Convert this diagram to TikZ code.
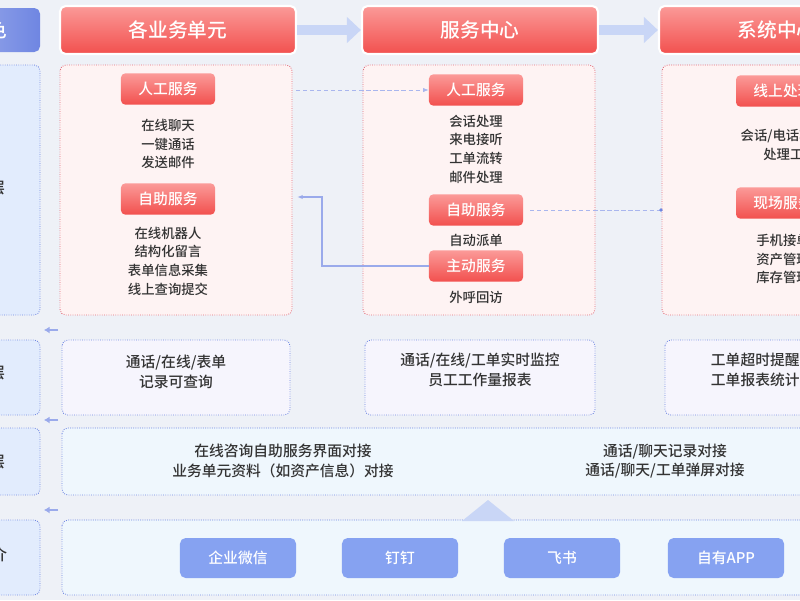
\documentclass[tikz,border=0pt]{standalone}
\usepackage{fontspec}
\setmainfont{Noto Sans CJK SC}[UprightFont=* Medium]
\usetikzlibrary{positioning,arrows.meta}
\definecolor{bgc}{HTML}{EEF1F7}
\definecolor{redtop}{HTML}{FB9A98}
\definecolor{redbot}{HTML}{F2504E}
\definecolor{pinkfill}{HTML}{FEF3F3}
\definecolor{redline}{HTML}{E36A78}
\definecolor{bluefill}{HTML}{E2ECFD}
\definecolor{blueline}{HTML}{6F86E2}
\definecolor{lavfill}{HTML}{F6F5FD}
\definecolor{skyfill}{HTML}{EFF7FD}
\definecolor{btnblue}{HTML}{86A2F1}
\definecolor{arrowc}{HTML}{C9D6F6}
\definecolor{txt}{HTML}{333333}
\tikzset{
  head/.style={rounded corners=4pt, top color=redtop, bottom color=redbot, text=white,
    font=\fontsize{14}{16}\selectfont, draw=white, line width=1.5pt, minimum height=1.2cm, minimum width=5.9cm},
  tag/.style={rounded corners=3pt, top color=redtop, bottom color=redbot, text=white,
    font=\fontsize{10.5}{12}\selectfont, minimum height=0.78cm, minimum width=2.35cm},
  panel/.style={rounded corners=4pt, fill=pinkfill, draw=redline, densely dotted, line width=0.6pt},
  lane/.style={rounded corners=4pt, fill=#1, draw=blueline, densely dotted, line width=0.6pt},
  role/.style={rounded corners=4pt, fill=bluefill, draw=blueline, densely dotted, line width=0.6pt},
  item/.style={text=txt, font=\fontsize{9.5}{13.3}\selectfont, align=center},
  btn/.style={rounded corners=4pt, fill=btnblue, text=white, font=\fontsize{10.5}{12}\selectfont,
    minimum width=2.9cm, minimum height=1cm},
  link/.style={draw=blueline!60, densely dashed, line width=0.5pt},
}
\begin{document}
\begin{tikzpicture}[x=0.025cm,y=-0.025cm]
\useasboundingbox (0,0) rectangle (800,600);
\clip (0,0) rectangle (800,600);
\fill[bgc] (0,0) rectangle (800,600);

% Role column
\draw[rounded corners=4pt, left color=blueline!70, right color=blueline, draw=none] (-40,8) rectangle (40,52);
\node[anchor=east, text=white, font=\fontsize{14}{16}\selectfont] (rolehead) at (12,30) {角色};
\draw[role] (-40,65) rectangle (40,315);
\node[anchor=east, item, font=\fontsize{11}{13}\selectfont] (lay1) at (10,188) {业务层};
\draw[role] (-40,340) rectangle (40,415);
\node[anchor=east, item, font=\fontsize{11}{13}\selectfont] (lay2) at (10,373) {数据层};
\draw[role] (-40,428) rectangle (40,495);
\node[anchor=east, item, font=\fontsize{11}{13}\selectfont] (lay3) at (10,462) {对接层};
\draw[role] (-40,520) rectangle (40,595);
\node[anchor=east, item, font=\fontsize{11}{13}\selectfont] (lay4) at (12,555) {接入媒介};

% Small markers
\foreach \yy in {330,420,510}
  \draw[-{Latex[length=4pt,width=5pt]}, blueline!70, line width=0.8pt] (58,\yy) -- (44,\yy);

% Headers
\node[head] (unit) at (178,30) {各业务单元};
\node[head] (center) at (480,30) {服务中心};
\node[head] (system) at (777,30) {系统中心};
\draw[-{Triangle[length=10pt,width=18pt]}, arrowc, line width=7pt] (unit.east) -- (center.west);
\draw[-{Triangle[length=10pt,width=18pt]}, arrowc, line width=7pt] (center.east) -- (system.west);

% Panels
\draw[panel] (60,65) rectangle (292,315);
\draw[panel] (363,65) rectangle (595,315);
\draw[panel] (662,65) rectangle (894,315);

% Business unit
\node[tag] (u1) at (168,89) {人工服务};
\node[item] (u1t) at (168,144) {在线聊天\\一键通话\\发送邮件};
\node[tag] (u2) at (168,199) {自助服务};
\node[item] (u2t) at (168,261) {在线机器人\\结构化留言\\表单信息采集\\线上查询提交};

% Service center
\node[tag] (c1) at (476,90) {人工服务};
\node[item] (c1t) at (476,149) {会话处理\\来电接听\\工单流转\\邮件处理};
\node[tag] (c2) at (476,210) {自助服务};
\node[item] (c2t) at (476,240) {自动派单};
\node[tag] (c3) at (476,266) {主动服务};
\node[item] (c3t) at (476,297) {外呼回访};

% System center
\node[tag] (s1) at (783,91) {线上处理};
\node[item] (s1t) at (790,145) {会话/电话转工单\\处理工单};
\node[tag] (s2) at (783,203) {现场服务};
\node[item] (s2t) at (783,259) {手机接单\\资产管理\\库存管理};

% Links
\coordinate (p1) at (296,90);
\coordinate (p2) at (297,197);
\coordinate (p3) at (530,210);
\coordinate (p4) at (661,210);
\draw[link, -{Latex[length=4pt]}] (p1) -- (c1.west);
\draw[draw=blueline!70, line width=0.8pt, -{Latex[length=4pt]}] (c3.west) -| (322,266) |- (p2);
\draw[link] (p3) -- (p4);
\fill[blueline] (p4) circle (1.8);

% Data row
\draw[lane=lavfill] (62,340) rectangle (290,415);
\node[item, font=\fontsize{10.5}{14}\selectfont] (d1) at (176,372) {通话/在线/表单\\记录可查询};
\draw[lane=lavfill] (365,340) rectangle (595,415);
\node[item, font=\fontsize{10.5}{14}\selectfont] (d2) at (480,370) {通话/在线/工单实时监控\\员工工作量报表};
\draw[lane=lavfill] (665,340) rectangle (895,415);
\node[item, font=\fontsize{10.5}{14}\selectfont, align=left, anchor=west] (d3) at (706,370) {工单超时提醒\\工单报表统计};

% Interface row
\draw[lane=skyfill] (62,428) rectangle (895,495);
\node[item, font=\fontsize{10.5}{14}\selectfont] (i1) at (283,461) {在线咨询自助服务界面对接\\业务单元资料（如资产信息）对接};
\node[item, font=\fontsize{10.5}{14}\selectfont] (i2) at (665,461) {通话/聊天记录对接\\通话/聊天/工单弹屏对接};

% Access row
\draw[lane=skyfill] (62,520) rectangle (895,595);
\fill[arrowc] (462,521) -- (488,500) -- (514,521) -- cycle;
\node[btn] (b1) at (238,558) {企业微信};
\node[btn] (b2) at (400,558) {钉钉};
\node[btn] (b3) at (562,558) {飞书};
\node[btn] (b4) at (726,558) {自有APP};
\end{tikzpicture}
\end{document}
